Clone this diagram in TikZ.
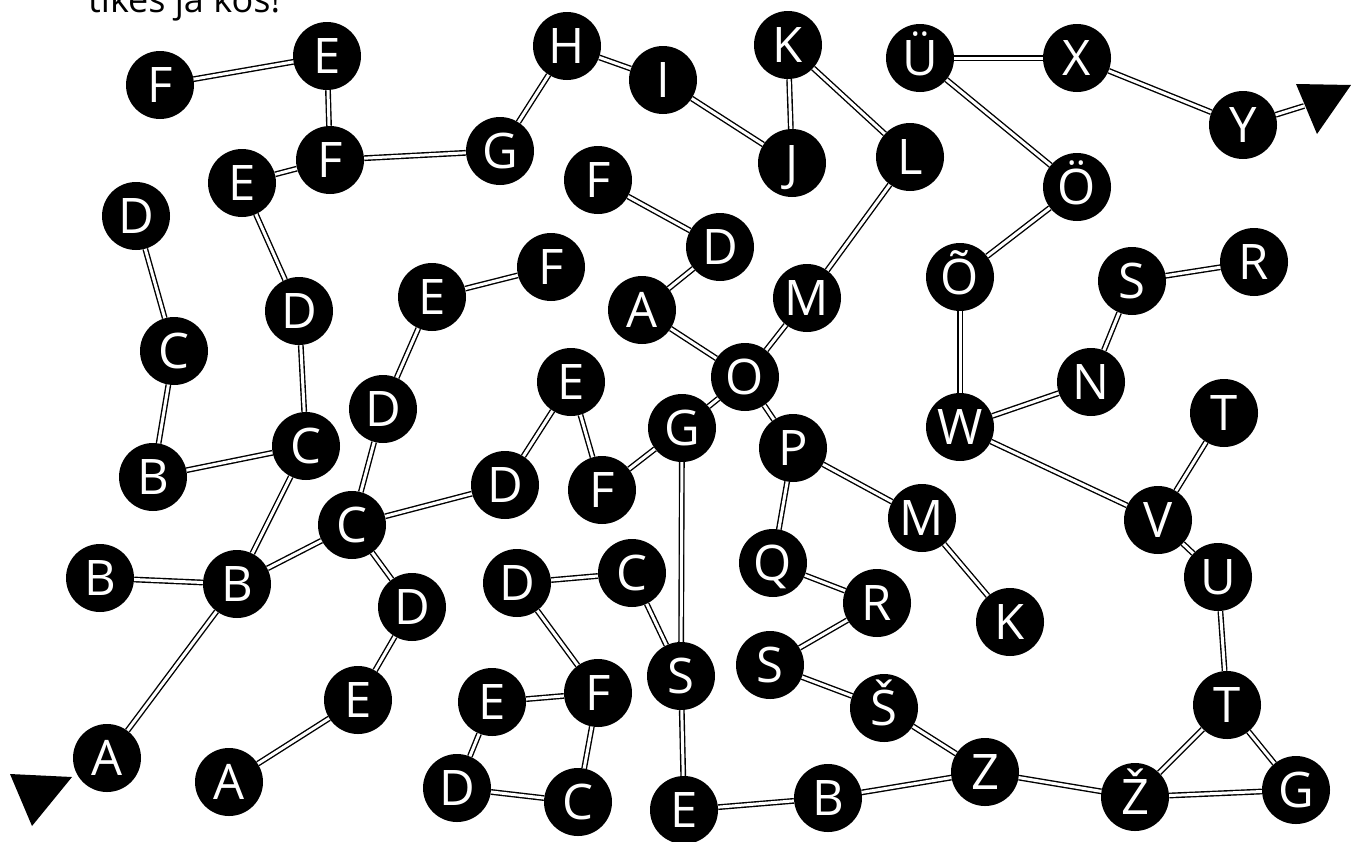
\documentclass[tikz,border=0pt]{standalone}
\usepackage{fontspec}
\setmainfont{Open Sans}
\begin{document}
\begin{tikzpicture}[x=1pt,y=-1pt,
  ball/.style={circle,fill=black,minimum size=68pt,inner sep=0pt,text=white,
    font=\fontsize{49}{49}\selectfont,text height=35pt,text depth=0pt},
  link/.style={draw=black,line width=1.4pt,double=white,double distance=3pt}]
\useasboundingbox (0,0) rectangle (1351,841);
\node[anchor=base west,inner sep=0pt,font=\fontsize{36}{36}\selectfont] (title) at (88,12) {tikes ja kos!};
% nodes
\node[ball] (F1) at (160,85) {F};
\node[ball] (E1) at (327,56) {E};
\node[ball] (F2) at (330,160) {F};
\node[ball] (G1) at (500,151) {G};
\node[ball] (H) at (567,46) {H};
\node[ball] (I) at (663,80) {I};
\node[ball] (J) at (792,163) {J};
\node[ball] (K) at (788,45) {K};
\node[ball] (L) at (910,157) {L};
\node[ball] (UE) at (920,58) {Ü};
\node[ball] (X) at (1077,58) {X};
\node[ball] (Y) at (1243,125) {Y};
\node[ball] (OE) at (1077,187) {Ö};
\node[ball] (OT) at (960,277) {Õ};
\node[ball] (S1) at (1132,281) {S};
\node[ball] (R1) at (1254,262) {R};
\node[ball] (N) at (1091,382) {N};
\node[ball] (W) at (960,427) {W};
\node[ball] (T1) at (1224,413) {T};
\node[ball] (V) at (1158,520) {V};
\node[ball] (U) at (1218,577) {U};
\node[ball] (T2) at (1227,705) {T};
\node[ball] (ZH) at (1135,797) {Ž};
\node[ball] (G3) at (1296,790) {G};
\node[ball] (Z) at (985,772) {Z};
\node[ball] (SH) at (884,708) {Š};
\node[ball] (S3) at (770,665) {S};
\node[ball] (R2) at (877,603) {R};
\node[ball] (Q) at (773,563) {Q};
\node[ball] (M2) at (922,518) {M};
\node[ball] (K2) at (1010,622) {K};
\node[ball] (P) at (793,448) {P};
\node[ball] (O) at (745,377) {O};
\node[ball] (M1) at (807,298) {M};
\node[ball] (D3) at (720,247) {D};
\node[ball] (F5) at (598,180) {F};
\node[ball] (A2) at (642,310) {A};
\node[ball] (G2) at (682,428) {G};
\node[ball] (F6) at (602,490) {F};
\node[ball] (E5) at (571,382) {E};
\node[ball] (D5) at (505,485) {D};
\node[ball] (F4) at (551,267) {F};
\node[ball] (E4) at (432,297) {E};
\node[ball] (D4) at (383,409) {D};
\node[ball] (C2) at (352,525) {C};
\node[ball] (E2) at (242,183) {E};
\node[ball] (D2) at (299,311) {D};
\node[ball] (C1) at (306,446) {C};
\node[ball] (D1) at (136,216) {D};
\node[ball] (C0) at (174,351) {C};
\node[ball] (B1) at (153,477) {B};
\node[ball] (B2) at (100,578) {B};
\node[ball] (B3) at (237,584) {B};
\node[ball] (D6) at (412,607) {D};
\node[ball] (E3) at (358,700) {E};
\node[ball] (A1) at (107,758) {A};
\node[ball] (A3) at (229,782) {A};
\node[ball] (D7) at (517,583) {D};
\node[ball] (C3) at (632,573) {C};
\node[ball] (S2) at (681,676) {S};
\node[ball] (E6) at (492,702) {E};
\node[ball] (F7) at (598,693) {F};
\node[ball] (D8) at (457,788) {D};
\node[ball] (C4) at (578,802) {C};
\node[ball] (E7) at (684,810) {E};
\node[ball] (B4) at (828,798) {B};
% triangles
\fill (1296,84) -- (1351,85) -- (1317,134) -- cycle;
\coordinate (tipY) at (1304,106);
\fill (10,774) -- (72,777) -- (32,826) -- cycle;
% connectors
\foreach \a/\b in {F1/E1,E1/F2,F2/E2,F2/G1,G1/H,H/I,I/J,K/J,K/L,L/M1,M1/O,
  UE/X,X/Y,UE/OE,OE/OT,OT/W,W/N,N/S1,S1/R1,W/V,V/T1,V/U,U/T2,T2/ZH,T2/G3,ZH/G3,
  ZH/Z,Z/SH,Z/B4,SH/S3,S3/R2,R2/Q,Q/P,P/O,P/M2,M2/K2,B4/E7,E7/S2,S2/G2,S2/C3,
  C3/D7,D7/F7,F7/E6,F7/C4,E6/D8,D8/C4,G2/O,G2/F6,F6/E5,E5/D5,D5/C2,C2/D4,D4/E4,
  E4/F4,C2/B3,C2/D6,D6/E3,E3/A3,B3/B2,B3/C1,B3/A1,C1/B1,B1/C0,C0/D1,C1/D2,D2/E2,
  O/A2,A2/D3,D3/F5}
  \draw[link] (\a) -- (\b);
\draw[link] (Y) -- (tipY);
\end{tikzpicture}
\end{document}
